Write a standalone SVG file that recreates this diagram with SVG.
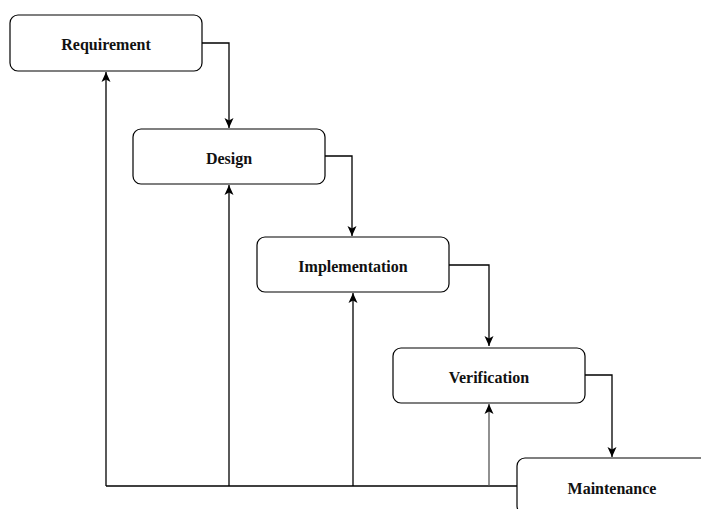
<svg xmlns="http://www.w3.org/2000/svg" width="701" height="509" viewBox="0 0 701 509">
<style>
.box{fill:#fff;stroke:#000;stroke-width:1.2}
.lbl{font-family:"Liberation Serif","Times New Roman",serif;font-weight:bold;font-size:16px;fill:#111;text-anchor:middle;dominant-baseline:central}
.c{fill:none;stroke:#000;stroke-width:1.3}
</style>
<defs>
<marker id="ah" viewBox="0 0 10 10" refX="10" refY="5" markerWidth="10" markerHeight="10" markerUnits="userSpaceOnUse" orient="auto">
<path d="M0,0.5 L10,5 L0,9.5 L2.5,5 Z" fill="#000"/>
</marker>
</defs>
<g id="connectors">
<path class="c" d="M202,43 H229 V128" marker-end="url(#ah)"/>
<path class="c" d="M325,156 H352 V236" marker-end="url(#ah)"/>
<path class="c" d="M449,265 H489 V346" marker-end="url(#ah)"/>
<path class="c" d="M585,375 H612 V457" marker-end="url(#ah)"/>
<path class="c" d="M517,486 H106"/>
<path class="c" d="M106,486 V72" marker-end="url(#ah)"/>
<path class="c" d="M229,486 V185" marker-end="url(#ah)"/>
<path class="c" d="M353,486 V293" marker-end="url(#ah)"/>
<path class="c" d="M489,486 V404" marker-end="url(#ah)" style="stroke:#555"/>
</g>
<g id="requirement">
<rect class="box" x="10" y="15" width="192" height="56" rx="8"/>
<text class="lbl" x="106" y="44">Requirement</text>
</g>
<g id="design">
<rect class="box" x="133" y="129" width="192" height="55" rx="8"/>
<text class="lbl" x="229" y="158">Design</text>
</g>
<g id="implementation">
<rect class="box" x="257" y="237" width="192" height="55" rx="8"/>
<text class="lbl" x="353" y="266">Implementation</text>
</g>
<g id="verification">
<rect class="box" x="393" y="348" width="192" height="55" rx="8"/>
<text class="lbl" x="489" y="377">Verification</text>
</g>
<g id="maintenance">
<rect class="box" x="517" y="458" width="192" height="56" rx="8"/>
<text class="lbl" x="612" y="488">Maintenance</text>
</g>
</svg>
